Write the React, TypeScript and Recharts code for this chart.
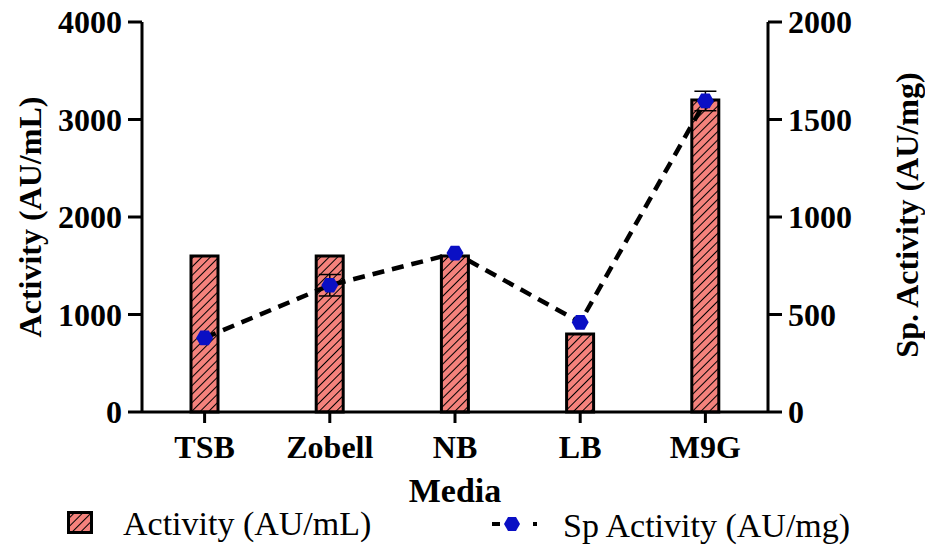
import { ComposedChart, Bar, Line, XAxis, YAxis, ErrorBar } from "recharts";

const media = ["TSB", "Zobell", "NB", "LB", "M9G"];
const activity = [1600, 1600, 1600, 800, 3200];
const spActivity = [380, 650, 815, 460, 1595];
const spError = [0, 55, 0, 0, 50];
const leftTicks = [0, 1000, 2000, 3000, 4000];
const rightTicks = [0, 500, 1000, 1500, 2000];

const data = media.map((m, i) => ({ name: m, activity: activity[i], sp: spActivity[i], spErr: spError[i] }));

const FONT = "'Liberation Serif', 'Times New Roman', serif";
const BLUE = "#0a0fc4";
const SALMON = "#f4827c";

const axisStyle = { stroke: "#000", strokeWidth: 3 };
const tickFont = { fill: "#000", fontSize: 32, fontWeight: 700, fontFamily: FONT };

// flat-topped hexagon marker (size instead of r, recharts passes its own r)
function Hex({ cx, cy, size = 8.5 }: { cx?: number; cy?: number; size?: number }) {
  if (cx == null || cy == null) return null;
  const pts = [0, 60, 120, 180, 240, 300]
    .map((a) => `${cx + size * Math.cos((a * Math.PI) / 180)},${cy + size * Math.sin((a * Math.PI) / 180)}`)
    .join(" ");
  return <polygon points={pts} fill={BLUE} />;
}

function LeftTitle({ viewBox }: any) {
  const cx = 30;
  const cy = viewBox.y + viewBox.height / 2;
  return (
    <text x={cx} y={cy} transform={`rotate(-90, ${cx}, ${cy})`} textAnchor="middle" dy="0.35em" fontFamily={FONT} fontSize={32} fontWeight={700} fill="#000">
      Activity (AU/mL)
    </text>
  );
}

function RightTitle({ viewBox }: any) {
  const cx = viewBox.x + 139;
  const cy = viewBox.y + viewBox.height / 2 - 2;
  return (
    <text x={cx} y={cy} transform={`rotate(-90, ${cx}, ${cy})`} textAnchor="middle" dy="0.35em" fontFamily={FONT} fontSize={32} fontWeight={700} fill="#000">
      Sp. Activity (AU/mg)
    </text>
  );
}

export default function App() {
  return (
    <div style={{ position: "relative", width: 925, height: 550, background: "#fff" }}>
      <style>{"body{margin:0}"}</style>
      <ComposedChart width={925} height={550} data={data} margin={{ top: 22, right: 0, bottom: 78, left: 0 }}>
        <defs>
          <pattern id="hatch" patternUnits="userSpaceOnUse" width={6} height={6} patternTransform="rotate(45)">
            <rect width={6} height={6} fill={SALMON} />
            <line x1={0} y1={0} x2={0} y2={6} stroke="#000" strokeWidth={2} />
          </pattern>
        </defs>
        <XAxis
          dataKey="name"
          height={60}
          axisLine={axisStyle}
          tickLine={axisStyle}
          tickSize={11}
          tickMargin={12}
          tick={tickFont}
          interval={0}
          label={{ value: "Media", position: "bottom", offset: 6, style: { fill: "#000", fontSize: 34, fontWeight: 700, fontFamily: FONT } }}
        />
        <YAxis
          yAxisId="left"
          width={142}
          domain={[0, 4000]}
          ticks={leftTicks}
          axisLine={axisStyle}
          tickLine={axisStyle}
          tickSize={14}
          tickMargin={6}
          tick={tickFont}
          label={<LeftTitle />}
        />
        <YAxis
          yAxisId="right"
          orientation="right"
          width={157}
          domain={[0, 2000]}
          ticks={rightTicks}
          axisLine={axisStyle}
          tickLine={axisStyle}
          tickSize={14}
          tickMargin={6}
          tick={tickFont}
          label={<RightTitle />}
        />
        <Bar yAxisId="left" dataKey="activity" barSize={27} fill="url(#hatch)" stroke="#000" strokeWidth={3} isAnimationActive={false} />
        <Line
          yAxisId="right"
          dataKey="sp"
          stroke="#000"
          strokeWidth={4.5}
          strokeDasharray="12 8"
          dot={<Hex />}
          activeDot={false}
          isAnimationActive={false}
        >
          <ErrorBar dataKey="spErr" width={11} stroke="#000" strokeWidth={1.5} direction="y" />
        </Line>
      </ComposedChart>

      {/* legend */}
      <div style={{ position: "absolute", left: 0, top: 500, width: 925, height: 50, fontFamily: FONT, color: "#000" }}>
        <svg width={26} height={23} style={{ position: "absolute", left: 67, top: 11 }}>
          <rect x={1.5} y={1.5} width={23} height={20} fill="url(#hatch)" stroke="#000" strokeWidth={3} />
        </svg>
        <span style={{ position: "absolute", left: 123, top: 4, fontSize: 34, lineHeight: "40px", whiteSpace: "nowrap" }}>Activity (AU/mL)</span>
        <svg width={50} height={20} style={{ position: "absolute", left: 490, top: 14 }}>
          <line x1={2} y1={10} x2={10} y2={10} stroke="#000" strokeWidth={4} />
          <Hex cx={22} cy={10} size={8} />
          <line x1={43} y1={10} x2={47} y2={10} stroke="#000" strokeWidth={4} />
        </svg>
        <span style={{ position: "absolute", left: 563, top: 6, fontSize: 34, lineHeight: "40px", whiteSpace: "nowrap" }}>Sp Activity (AU/mg)</span>
      </div>
    </div>
  );
}
